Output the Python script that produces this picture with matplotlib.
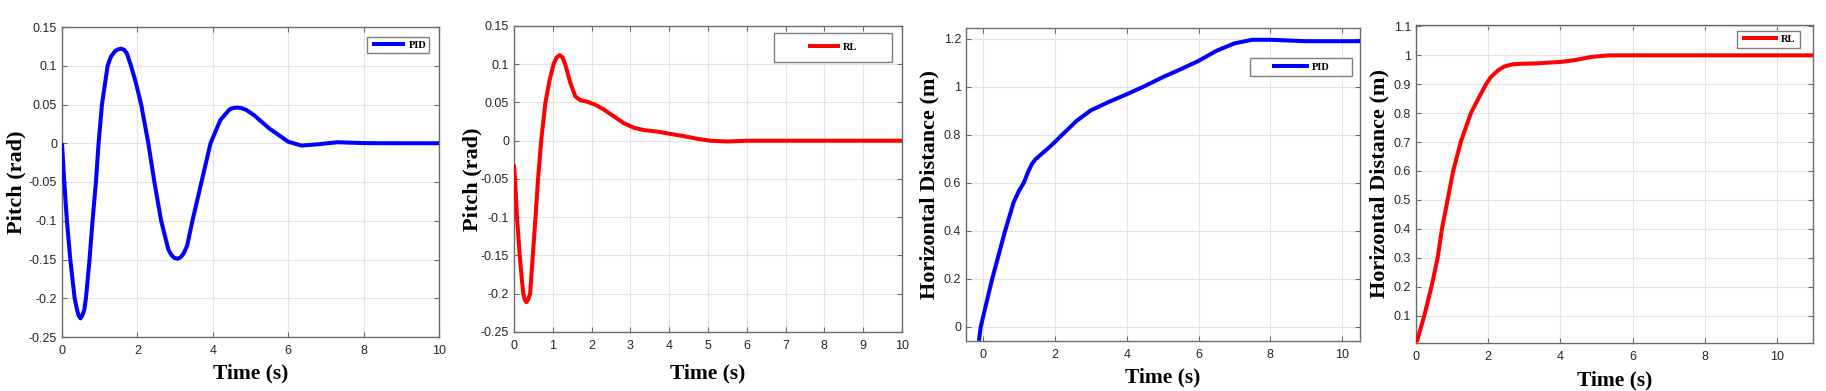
import matplotlib
matplotlib.use("Agg")
import matplotlib.pyplot as plt
from matplotlib.patches import Rectangle

# ---------------- data ----------------
pid_pitch_t = [0, 0.06, 0.13, 0.22, 0.335, 0.40, 0.44, 0.49, 0.54, 0.59, 0.635, 0.73, 0.81,
               0.90, 0.97, 1.06, 1.21, 1.30, 1.41, 1.48, 1.57, 1.65, 1.72, 1.83, 1.96, 2.10,
               2.29, 2.45, 2.63, 2.82, 2.90, 2.98, 3.07, 3.15, 3.23, 3.32, 3.46, 3.70, 3.94,
               4.20, 4.45, 4.55, 4.65, 4.75, 4.89, 5.10, 5.5, 6.0, 6.35, 6.8, 7.3, 8.0, 9.0, 10.0]
pid_pitch_y = [0, -0.05, -0.10, -0.15, -0.20, -0.215, -0.222, -0.226, -0.222, -0.215, -0.20,
               -0.15, -0.10, -0.05, 0, 0.05, 0.10, 0.112, 0.119, 0.121, 0.122, 0.1205, 0.116,
               0.10, 0.078, 0.05, 0, -0.05, -0.10, -0.137, -0.144, -0.148, -0.149, -0.147,
               -0.142, -0.132, -0.10, -0.05, 0, 0.03, 0.044, 0.0455, 0.046, 0.0455, 0.043,
               0.036, 0.019, 0.002, -0.003, -0.0013, 0.0013, 0.0002, 0, 0]

rl_pitch_t = [0, 0.026, 0.078, 0.147, 0.21, 0.24, 0.28, 0.32, 0.37, 0.415, 0.485, 0.554,
              0.62, 0.70, 0.81, 0.92, 1.02, 1.10, 1.18, 1.25, 1.32, 1.45, 1.58, 1.71, 1.89,
              2.10, 2.31, 2.57, 2.83, 3.09, 3.34, 3.69, 4.03, 4.38, 4.72, 5.07, 5.5, 6.0,
              7.0, 8.0, 9.0, 10.0]
rl_pitch_y = [-0.031, -0.05, -0.10, -0.15, -0.185, -0.20, -0.208, -0.211, -0.207, -0.20,
              -0.15, -0.10, -0.05, 0, 0.05, 0.08, 0.10, 0.109, 0.112, 0.109, 0.10, 0.076,
              0.058, 0.053, 0.051, 0.047, 0.041, 0.032, 0.023, 0.017, 0.014, 0.012, 0.009,
              0.006, 0.0026, 0, -0.001, 0, 0, 0, 0, 0]

pid_dist_t = [-0.12, -0.07, 0.25, 0.61, 0.85, 1.0, 1.13, 1.25, 1.35, 1.45, 1.6, 1.9, 2.2, 2.6,
              3.0, 3.5, 4.0, 4.5, 5.0, 5.5, 6.0, 6.5, 7.0, 7.5, 8.0, 9.0, 10.0, 10.5]
pid_dist_y = [-0.058, 0, 0.2, 0.4, 0.52, 0.568, 0.6, 0.645, 0.677, 0.697, 0.717, 0.756, 0.8,
              0.858, 0.902, 0.937, 0.969, 1.003, 1.04, 1.073, 1.108, 1.15, 1.181, 1.196,
              1.196, 1.19, 1.19, 1.19]

rl_dist_t = [0.02, 0.23, 0.43, 0.60, 0.72, 0.875, 1.03, 1.24, 1.52, 1.71, 1.94, 2.07, 2.26,
             2.44, 2.67, 2.95, 3.32, 3.69, 4.0, 4.42, 4.88, 5.35, 6.0, 7.0, 8.0, 9.0, 10.0, 11.0]
rl_dist_y = [0.008, 0.1, 0.2, 0.3, 0.4, 0.5, 0.6, 0.7, 0.8, 0.846, 0.9, 0.924, 0.947, 0.961,
             0.969, 0.971, 0.972, 0.975, 0.977, 0.984, 0.995, 1.0, 1.0, 1.0, 1.0, 1.0, 1.0, 1.0]

pitch_yticks = [-0.25, -0.2, -0.15, -0.1, -0.05, 0, 0.05, 0.1, 0.15]
pitch_ylabels = ["-0.25", "-0.2", "-0.15", "-0.1", "-0.05", "0", "0.05", "0.1", "0.15"]
t_ticks_even = [0, 2, 4, 6, 8, 10]
t_ticks_all = [0, 1, 2, 3, 4, 5, 6, 7, 8, 9, 10]
dist_pid_yticks = [0, 0.2, 0.4, 0.6, 0.8, 1.0, 1.2]
dist_pid_ylabels = ["0", "0.2", "0.4", "0.6", "0.8", "1", "1.2"]
dist_rl_yticks = [0.1, 0.2, 0.3, 0.4, 0.5, 0.6, 0.7, 0.8, 0.9, 1.0, 1.1]
dist_rl_ylabels = ["0.1", "0.2", "0.3", "0.4", "0.5", "0.6", "0.7", "0.8", "0.9", "1", "1.1"]

xlabel = "Time (s)"
ylabel_pitch = "Pitch (rad)"
ylabel_dist = "Horizontal Distance (m)"

# ---------------- layout ----------------
W, H = 1826, 391
fig = plt.figure(figsize=(W / 100, H / 100), dpi=100)
fig.patch.set_facecolor("white")

SERIF = "Liberation Serif"
SANS = "Liberation Sans"

panels = [
    dict(box=(62, 27, 439, 337), t=pid_pitch_t, y=pid_pitch_y, color="#0000ff", label="PID",
         xlim=(0, 10), ylim=(-0.25, 0.15), xt=t_ticks_even, yt=pitch_yticks, ytl=pitch_ylabels,
         ylab=ylabel_pitch, ylab_x=16, xlab_y=373,
         leg_c=(399, 45), leg_box=(367, 37, 429, 53), hl=3.2),
    dict(box=(514, 26, 902, 332), t=rl_pitch_t, y=rl_pitch_y, color="#ff0000", label="RL",
         xlim=(0, 10), ylim=(-0.25, 0.15), xt=t_ticks_all, yt=pitch_yticks, ytl=pitch_ylabels,
         ylab=ylabel_pitch, ylab_x=472, xlab_y=373,
         leg_c=(833, 47.5), leg_box=(774, 33, 892, 62), hl=3.0),
    dict(box=(966, 28, 1360, 341), t=pid_dist_t, y=pid_dist_y, color="#0000ff", label="PID",
         xlim=(-0.48, 10.5), ylim=(-0.059, 1.245), xt=t_ticks_even, yt=dist_pid_yticks,
         ytl=dist_pid_ylabels, ylab=ylabel_dist, ylab_x=929, xlab_y=377,
         leg_c=(1301, 67), leg_box=(1250, 58, 1352, 76), hl=3.5),
    dict(box=(1416, 25, 1813, 343), t=rl_dist_t, y=rl_dist_y, color="#ff0000", label="RL",
         xlim=(0, 11), ylim=(0.005, 1.105), xt=t_ticks_even, yt=dist_rl_yticks,
         ytl=dist_rl_ylabels, ylab=ylabel_dist, ylab_x=1379, xlab_y=380,
         leg_c=(1769, 39.5), leg_box=(1737, 31, 1800, 48), hl=3.4),
]

for p in panels:
    l, t_, r, b = p["box"]
    ax = fig.add_axes([l / W, 1 - b / H, (r - l) / W, (b - t_) / H])

    def fx(px, l=l, r=r):
        return (px - l) / (r - l)

    def fy(py, t_=t_, b=b):
        return (b - py) / (b - t_)

    ax.plot(p["t"], p["y"], color=p["color"], lw=2.9, label=p["label"],
            solid_joinstyle="round", solid_capstyle="butt", zorder=3)
    ax.set_xlim(*p["xlim"])
    ax.set_ylim(*p["ylim"])
    ax.set_xticks(p["xt"])
    ax.set_xticklabels([str(v) for v in p["xt"]])
    ax.set_yticks(p["yt"])
    ax.set_yticklabels(p["ytl"])
    ax.grid(True, color="#e3e3e3", lw=0.8, zorder=0)
    ax.set_axisbelow(True)
    for s in ax.spines.values():
        s.set_color("#6b6b6b")
        s.set_linewidth(1.0)
    ax.tick_params(which="both", direction="in", top=True, right=True, length=3.5,
                   width=0.8, color="#6b6b6b", labelcolor="#262626", labelsize=9)
    ax.tick_params(axis="x", pad=6)
    ax.tick_params(axis="y", pad=3.5)
    for lab in ax.get_xticklabels() + ax.get_yticklabels():
        lab.set_fontfamily(SANS)

    ax.set_xlabel(xlabel, fontfamily=SERIF, fontweight="bold", fontsize=15.5)
    ax.set_ylabel(p["ylab"], fontfamily=SERIF, fontweight="bold", fontsize=16)
    ax.xaxis.label.set_verticalalignment("center")
    ax.yaxis.label.set_verticalalignment("center")
    ax.xaxis.set_label_coords(0.5, fy(p["xlab_y"]))
    ax.yaxis.set_label_coords(fx(p["ylab_x"]), 0.5)

    x0, y0, x1, y1 = p["leg_box"]
    ax.add_patch(Rectangle((fx(x0), fy(y1)), fx(x1) - fx(x0), fy(y0) - fy(y1),
                           transform=ax.transAxes, facecolor="white", edgecolor="#7f7f7f",
                           lw=1.0, zorder=4))
    cx, cy = p["leg_c"]
    leg = ax.legend(loc="center", bbox_to_anchor=(fx(cx), fy(cy)), frameon=False,
                    borderpad=0, handlelength=p["hl"], handletextpad=0.35,
                    prop=dict(family=SERIF, weight="bold", size=7.5))
    leg.set_zorder(5)

fig.savefig("out.png", dpi=100, facecolor="white")
